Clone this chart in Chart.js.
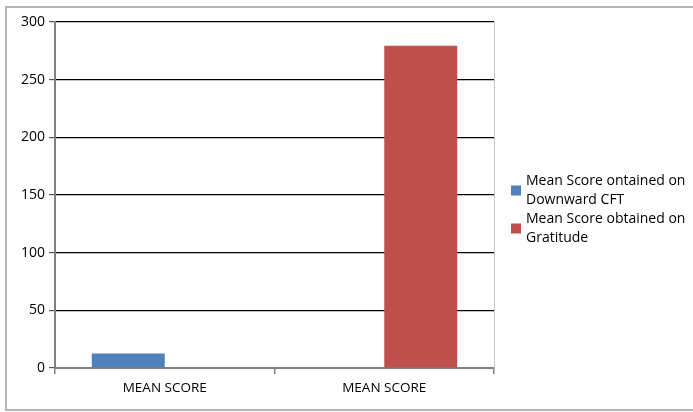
<!DOCTYPE html>
<html>
<head>
<meta charset="utf-8">
<script src="https://cdn.jsdelivr.net/npm/chart.js@4.4.1/dist/chart.umd.min.js"></script>
<style>
  html, body { margin: 0; padding: 0; background: #fff; }
  #wrap { width: 693px; height: 412px; }
</style>
</head>
<body>
<div id="wrap"><canvas id="scoreChart" width="693" height="412"></canvas></div>
<script>
const categories = ["MEAN SCORE", "MEAN SCORE"];
const downwardScores = [12.6, null];
const gratitudeScores = [null, 279.5];
const seriesLabels = [
  ["Mean Score ontained on", "Downward CFT"],
  ["Mean Score obtained on", "Gratitude"],
];
const seriesColors = ["#4F81BD", "#C0504D"];
const yMax = 300;
const yStep = 50;

const FONT = "'Open Sans', 'Liberation Sans', sans-serif";

// Outer frame (its right side runs past the canvas) and the light right edge of the plot area
const framePlugin = {
  id: "frame",
  beforeDraw(chart) {
    const ctx = chart.ctx;
    ctx.save();
    ctx.fillStyle = "#fff";
    ctx.fillRect(0, 0, chart.width, chart.height);
    ctx.strokeStyle = "#b4b4b4";
    ctx.lineWidth = 2;
    ctx.strokeRect(6, 7, chart.width + 10, chart.height - 9);
    ctx.restore();
  },
  afterDatasetsDraw(chart) {
    const { ctx, chartArea } = chart;
    ctx.save();
    ctx.strokeStyle = "#c8c8c8";
    ctx.lineWidth = 1;
    ctx.beginPath();
    ctx.moveTo(chartArea.right + 0.5, chartArea.top);
    ctx.lineTo(chartArea.right + 0.5, chartArea.bottom);
    ctx.stroke();
    ctx.restore();
  },
};

// Legend with wrapped labels, drawn to the right of the plot
const wrappedLegend = {
  id: "wrappedLegend",
  afterDraw(chart) {
    const ctx = chart.ctx;
    const x = 511;
    const lineHeight = 18.5;
    let top = 172;
    ctx.save();
    ctx.font = "14px " + FONT;
    ctx.textBaseline = "middle";
    ctx.fillStyle = "#000";
    chart.data.datasets.forEach((ds, i) => {
      const lines = seriesLabels[i];
      const blockH = lines.length * lineHeight;
      ctx.fillStyle = ds.backgroundColor;
      ctx.fillRect(x, top + blockH / 2 - 5, 10, 10);
      ctx.fillStyle = "#000";
      lines.forEach((line, j) => {
        ctx.fillText(line, x + 15, top + lineHeight * j + lineHeight / 2);
      });
      top += blockH + 1;
    });
    ctx.restore();
  },
};

const ctx = document.getElementById("scoreChart").getContext("2d");
new Chart(ctx, {
  type: "bar",
  data: {
    labels: categories,
    datasets: [
      {
        label: seriesLabels[0].join(" "),
        data: downwardScores,
        backgroundColor: seriesColors[0],
      },
      {
        label: seriesLabels[1].join(" "),
        data: gratitudeScores,
        backgroundColor: seriesColors[1],
      },
    ],
  },
  options: {
    responsive: false,
    animation: false,
    devicePixelRatio: 1,
    categoryPercentage: 0.665,
    barPercentage: 1,
    layout: {
      padding: { left: 0, top: 22, right: 199, bottom: 0 },
    },
    plugins: {
      legend: { display: false },
      tooltip: { enabled: false },
    },
    scales: {
      x: {
        grid: {
          drawOnChartArea: false,
          drawTicks: true,
          tickLength: 6,
          color: "#808080",
          lineWidth: 1.5,
        },
        border: { color: "#808080", width: 2 },
        ticks: {
          color: "#000",
          padding: 6,
          font: { size: 13.5, family: FONT },
        },
        afterFit(scale) {
          scale.height = 44;
        },
      },
      y: {
        min: 0,
        max: yMax,
        ticks: {
          stepSize: yStep,
          color: "#000",
          padding: 4,
          font: { size: 14, family: FONT },
        },
        grid: {
          color: "#000",
          lineWidth: 1.2,
          tickLength: 6,
          tickColor: "#555",
        },
        border: { color: "#808080", width: 2 },
        afterFit(scale) {
          scale.width = 55;
        },
      },
    },
  },
  plugins: [framePlugin, wrappedLegend],
});
</script>
</body>
</html>
